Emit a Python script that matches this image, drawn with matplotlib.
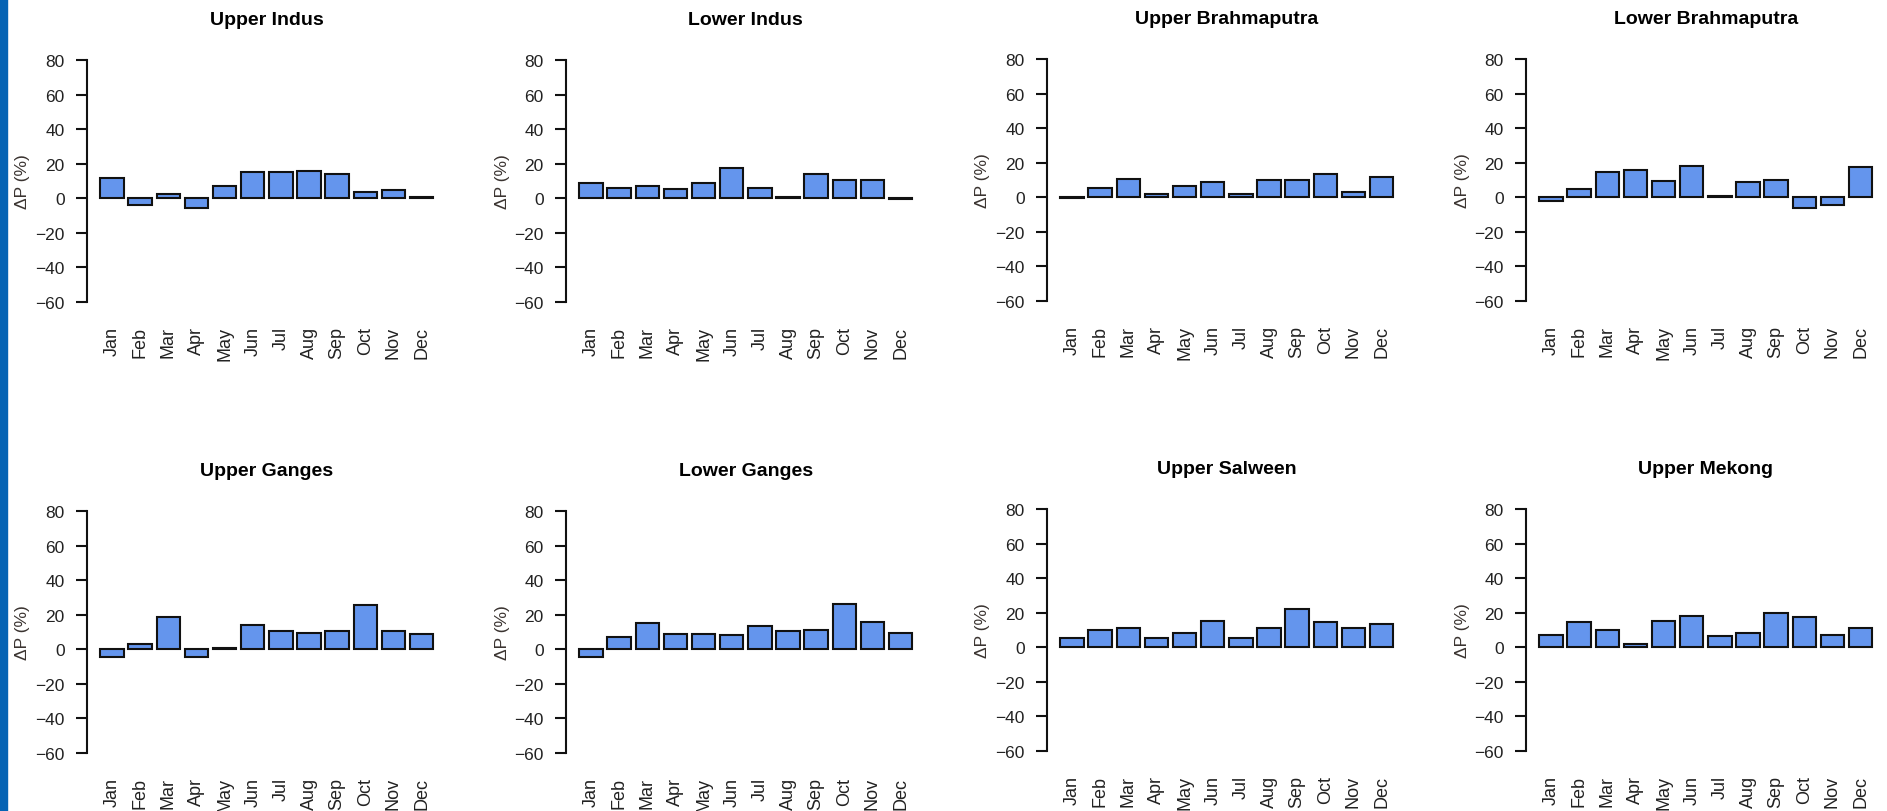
import matplotlib
matplotlib.use("Agg")
from matplotlib import pyplot as plt

plt.rcParams['font.family'] = ['Liberation Sans', 'DejaVu Sans']

months = ["Jan", "Feb", "Mar", "Apr", "May", "Jun",
          "Jul", "Aug", "Sep", "Oct", "Nov", "Dec"]

basins = ["Upper Indus", "Lower Indus", "Upper Brahmaputra", "Lower Brahmaputra",
          "Upper Ganges", "Lower Ganges", "Upper Salween", "Upper Mekong"]

# Change in precipitation per month (%)
upper_indus = [12, -3.7, 2.6, -5.4, 7, 15, 15, 15.7, 14.2, 3.6, 5, 0.5]
lower_indus = [8.8, 6.2, 6.9, 5.2, 8.8, 17.4, 6.2, 0.5, 14, 10.5, 10.5, -0.5]
upper_brahmaputra = [-0.5, 5.6, 10.8, 2.1, 6.3, 9, 2.1, 10, 10, 13.7, 2.9, 11.9]
lower_brahmaputra = [-2, 4.8, 14.4, 15.6, 9.2, 18.3, 0.8, 9, 10, -6.3, -4.4, 17.3]
upper_ganges = [-4.5, 2.8, 18.5, -4.5, 0.5, 14, 10.5, 9.7, 10.5, 25.6, 10.5, 8.8]
lower_ganges = [-4.5, 7.1, 15, 8.8, 8.8, 8, 13.5, 10.5, 11.4, 26.4, 15.9, 9.7]
upper_salween = [5.6, 10, 11.2, 5.6, 8.3, 15.4, 5.6, 11.2, 21.9, 14.6, 11.2, 13.7]
upper_mekong = [7.3, 14.6, 10, 1.9, 15.4, 18.1, 6.5, 8.3, 20, 17.3, 7.3, 11.2]

values = [upper_indus, lower_indus, upper_brahmaputra, lower_brahmaputra,
          upper_ganges, lower_ganges, upper_salween, upper_mekong]

W, H = 1887, 812
fig = plt.figure(figsize=(W / 100, H / 100), dpi=100)

# blue strip on the left edge
fig.patches.append(plt.Rectangle((0, 0), 7 / W, 1, transform=fig.transFigure,
                                 color="#0563B4", zorder=0))

# panel placement in pixels: left axis x, y of the 80 tick, y of the -60 tick
axis_x = [87, 566, 1047, 1526]
row_y = [[(61, 303), (61, 303), (60, 302), (60, 302)],
         [(512, 754), (512, 754), (510, 752), (510, 752)]]

unit_x = 23.45          # pixels per bar unit
x_lo, x_hi = -0.368, 14.968
y_lo, y_hi = -65.6, 85.6

for i, (name, vals) in enumerate(zip(basins, values)):
    r, c = divmod(i, 4)
    y80, y60 = row_y[r][c]
    py = (y60 - y80) / 140.0
    top = y80 - (y_hi - 80) * py
    bottom = y60 + (-60 - y_lo) * py
    left = axis_x[c]
    width = (x_hi - x_lo) * unit_x

    ax = fig.add_axes([left / W, 1 - bottom / H, width / W, (bottom - top) / H])

    xs = [0.7 + 1.2 * k for k in range(12)]
    ax.bar(xs, vals, width=1.0, color="#6495ED", edgecolor="#111111", linewidth=1.5)

    ax.set_xlim(x_lo, x_hi)
    ax.set_ylim(y_lo, y_hi)
    for s in ["top", "right", "bottom"]:
        ax.spines[s].set_visible(False)
    ax.spines["left"].set_bounds(-60, 80)
    ax.spines["left"].set_linewidth(1.5)
    ax.spines["left"].set_color("#111111")

    ax.set_yticks(range(-60, 81, 20))
    ax.tick_params(axis="y", length=8, width=1.5, pad=8, labelsize=12.5,
                   color="#111111", labelcolor="#222222")
    ax.set_xticks(xs)
    ax.set_xticklabels(months, rotation=90, fontsize=13, color="#222222")
    ax.tick_params(axis="x", length=0, pad=10)

    ax.text(-64 / width, 0.5, "ΔP (%)", transform=ax.transAxes, rotation=90,
            ha="center", va="center", fontsize=12.5, color="#3a3330")
    ax.set_title(name, fontsize=14, fontweight="bold", pad=19)

fig.savefig("out.png", dpi=100)
